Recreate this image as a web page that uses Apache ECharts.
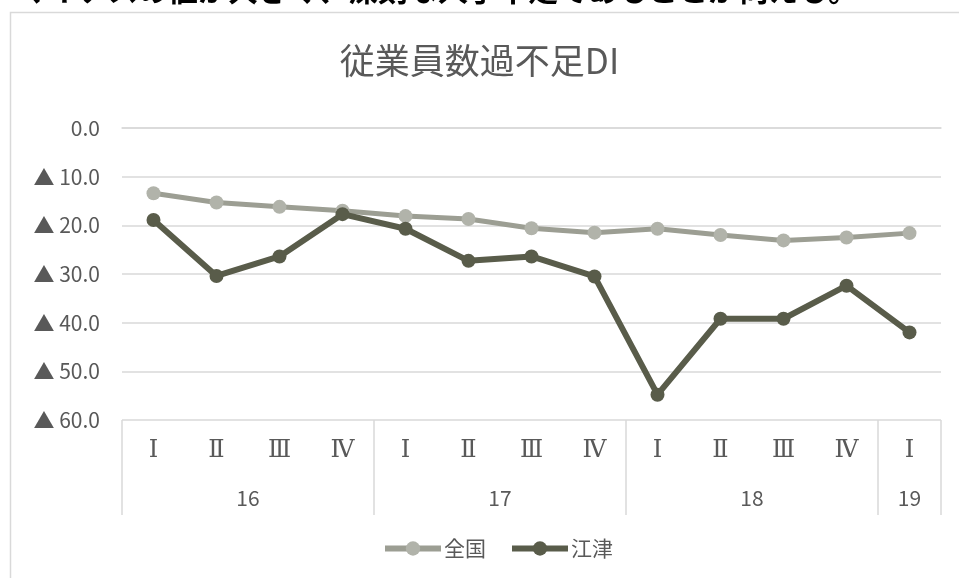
<!DOCTYPE html>
<html>
<head>
<meta charset="utf-8">
<script src="https://cdn.jsdelivr.net/npm/echarts@6/dist/echarts.min.js"></script>
<style>
  html, body { margin: 0; padding: 0; background: #fff; }
  #main { width: 959px; height: 578px; }
</style>
</head>
<body>
<div id="main"></div>
<script>
  // 四半期（下段は年）
  var quarters = ['Ⅰ', 'Ⅱ', 'Ⅲ', 'Ⅳ', 'Ⅰ', 'Ⅱ', 'Ⅲ', 'Ⅳ', 'Ⅰ', 'Ⅱ', 'Ⅲ', 'Ⅳ', 'Ⅰ'];
  var years = ['16', '17', '18', '19'];
  var yearCenters = [2, 6, 10, 12.5];
  var yearBounds = [0, 4, 8, 12, 13];
  // ▲はマイナス
  var zenkoku = [13.4, 15.3, 16.2, 17.0, 18.1, 18.7, 20.6, 21.5, 20.7, 22.0, 23.1, 22.5, 21.6];
  var gotsu = [18.9, 30.4, 26.4, 17.7, 20.7, 27.3, 26.4, 30.5, 54.8, 39.2, 39.2, 32.4, 42.0];
  var yTicks = [0, 10, 20, 30, 40, 50, 60];

  var font = '"Noto Sans CJK JP", "Noto Sans", sans-serif';
  var chart = echarts.init(document.getElementById('main'));

  chart.setOption({
    animation: false,
    textStyle: { fontFamily: font },
    title: {
      text: '従業員数過不足DI',
      left: 'center',
      top: 38,
      textStyle: { fontSize: 35, fontWeight: 'normal', color: '#595959', fontFamily: font }
    },
    graphic: [
      {
        type: 'rect',
        shape: { x: 10.5, y: 12.5, width: 1000, height: 700 },
        style: { fill: 'none', stroke: '#d9d9d9', lineWidth: 1.5 },
        silent: true
      },
      {
        type: 'text',
        x: 18,
        y: -10,
        style: {
          text: 'マイナスの値が大きく、深刻な人手不足であることが伺える。',
          font: 'bold 30px ' + font,
          fill: '#000',
          textVerticalAlign: 'middle'
        }
      }
    ],
    legend: {
      bottom: 14,
      left: 377,
      itemWidth: 56,
      itemHeight: 18,
      itemGap: 23,
      textStyle: { fontSize: 21, color: '#595959', padding: [0, 0, 0, -2] },
      data: [
        { name: '全国', lineStyle: { width: 6 } },
        { name: '江津', lineStyle: { width: 6 } }
      ]
    },
    grid: { left: 122, right: 18, top: 128, bottom: 158 },
    xAxis: [
      {
        type: 'category',
        data: quarters,
        boundaryGap: true,
        axisLine: { lineStyle: { color: '#d9d9d9', width: 1.5 } },
        axisTick: { show: false },
        axisLabel: {
          color: '#595959',
          fontSize: 24,
          fontFamily: '"DejaVu Serif", "Liberation Serif", serif',
          margin: 19,
          interval: 0
        }
      },
      {
        type: 'value',
        min: 0,
        max: 13,
        position: 'bottom',
        axisLine: { show: false },
        splitLine: { show: false },
        axisTick: {
          show: true,
          customValues: yearBounds,
          length: 95,
          lineStyle: { color: '#d9d9d9', width: 1.5 }
        },
        axisLabel: {
          customValues: yearCenters,
          color: '#595959',
          fontSize: 21,
          margin: 68,
          formatter: function (v) {
            var i = yearCenters.indexOf(v);
            return i >= 0 ? years[i] : '';
          }
        }
      }
    ],
    yAxis: {
      type: 'value',
      inverse: true,
      min: yTicks[0],
      max: yTicks[yTicks.length - 1],
      interval: 10,
      axisLine: { show: false },
      axisTick: { show: false },
      splitLine: { lineStyle: { color: '#d9d9d9', width: 1.5 } },
      axisLabel: {
        color: '#595959',
        fontSize: 21,
        margin: 22,
        formatter: function (v) {
          return v === 0 ? '0.0' : '▲ ' + v.toFixed(1);
        }
      }
    },
    series: [
      {
        name: '全国',
        type: 'line',
        data: zenkoku,
        symbol: 'circle',
        symbolSize: 14,
        lineStyle: { color: '#9c9e93', width: 5 },
        itemStyle: { color: '#b1b3aa' }
      },
      {
        name: '江津',
        type: 'line',
        data: gotsu,
        symbol: 'circle',
        symbolSize: 14,
        lineStyle: { color: '#595c4a', width: 6 },
        itemStyle: { color: '#595c4a' }
      }
    ]
  });
</script>
</body>
</html>
